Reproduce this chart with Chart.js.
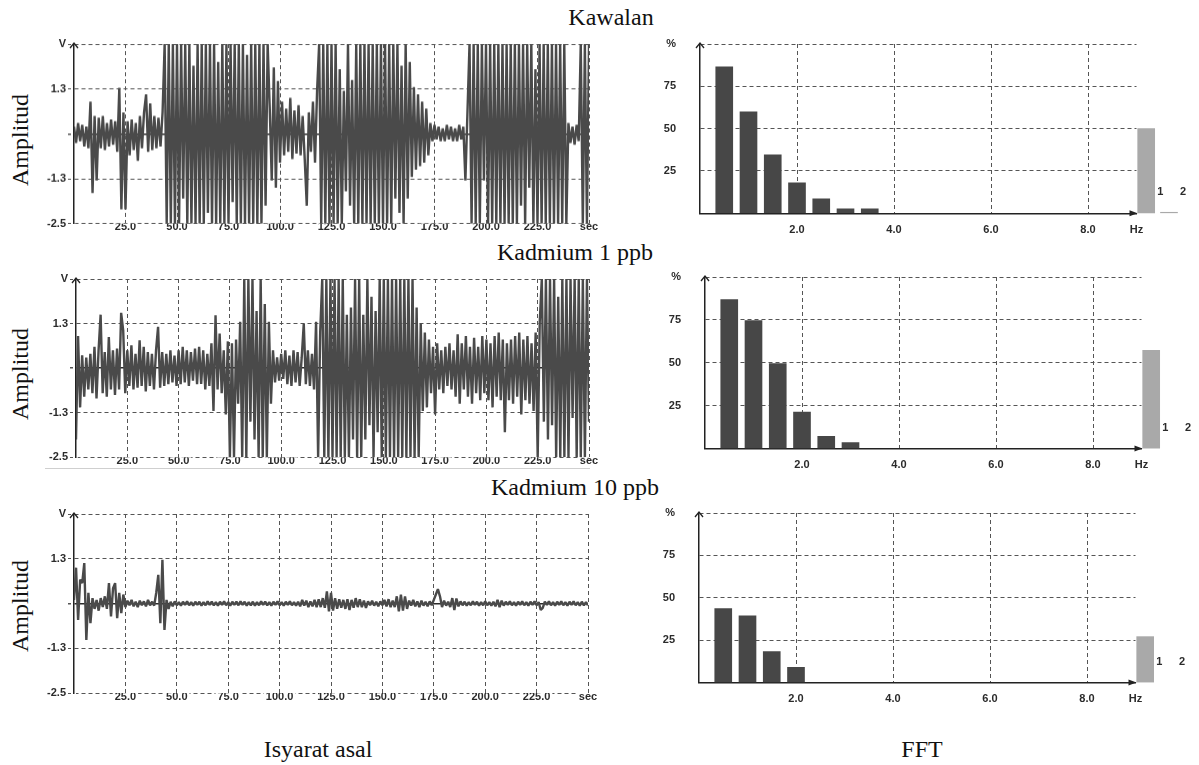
<!DOCTYPE html>
<html lang="ms">
<head>
<meta charset="UTF-8" />
<title>Isyarat asal dan FFT</title>
<script src="https://cdn.jsdelivr.net/npm/chart.js"></script>
<style>
  html, body { margin: 0; padding: 0; background: #fff; width: 1199px; height: 765px; overflow: hidden; }
  .box { position: absolute; }
  .lbl {
    position: absolute; white-space: nowrap; line-height: 1; color: #111;
    font-family: 'Liberation Serif', 'Times New Roman', serif; font-size: 24px;
    transform: translate(-50%, -50%);
  }
  .rot { transform: translate(-50%, -50%) rotate(-90deg); }
</style>
</head>
<body>
<div class="lbl" style="left:611px; top:17px;">Kawalan</div>
<div class="lbl" style="left:575px; top:252px;">Kadmium 1 ppb</div>
<div class="lbl" style="left:575px; top:487px;">Kadmium 10 ppb</div>
<div class="lbl rot" style="left:20px; top:140px;">Amplitud</div>
<div class="lbl rot" style="left:20px; top:374px;">Amplitud</div>
<div class="lbl rot" style="left:20px; top:606px;">Amplitud</div>
<div class="lbl" style="left:318px; top:749px;">Isyarat asal</div>
<div class="lbl" style="left:922px; top:749px;">FFT</div>
<div style="position:absolute; left:45px; top:468px; width:545px; height:1px; background:#cfcfcf;"></div>

<div class="box" id="sig1"><canvas></canvas></div>
<div class="box" id="sig2"><canvas></canvas></div>
<div class="box" id="sig3"><canvas></canvas></div>
<div class="box" id="fft1"><canvas></canvas></div>
<div class="box" id="fft2"><canvas></canvas></div>
<div class="box" id="fft3"><canvas></canvas></div>

<script>
  // ---- data: original signals (V), one sample per second, 0..250 s ----
  const sampleSec = 1;

  const signalKawalan = [
    0.2, -0.25, 0.3, -0.2, 0.25, -0.35, 0.2, -0.4, 0.9, -1.65,
    0.5, -1.3, 0.45, -0.4, 0.5, -0.45, 0.3, -0.35, 0.4, -0.3,
    0.35, -0.5, 1.28, -2.1, 0.6, -2.1, 0.35, -0.6, 0.4, -0.45,
    0.3, -0.75, 0.5, -0.4, 0.6, 1.1, -0.5, 0.85, -0.45, 0.5,
    -0.4, 0.45, -0.35, 0.6, 2.5, -2.5, 2.5, -2.5, 2.5, -2.5,
    2.5, -2.5, 2.5, -1.8, 2.5, -2.5, 2.5, -2.5, 1.9, -2.5,
    2.5, -2.5, 2.5, -2.5, 2.5, -2.2, 2.5, -2.5, 2.5, -2.5,
    2.0, -2.5, 2.5, -2.5, 2.5, -2.5, 2.5, -1.9, 2.5, -2.5,
    2.5, -2.5, 2.5, -2.5, 2.2, -2.5, 2.5, -2.5, 2.5, -2.5,
    2.5, -2.5, 2.5, -2.0, 2.5, 0.75, -1.3, 1.85, -1.5, 1.47,
    -0.8, 0.9, -0.6, 0.7, -0.5, 1.0, -0.7, 0.65, -0.55, 0.8,
    -0.6, 0.5, -0.7, -2.0, 0.6, -0.5, 0.9, -0.8, 1.2, 2.5,
    -2.5, 2.5, -2.5, 2.5, -2.5, 2.5, -2.5, 2.5, -2.5, 1.8,
    -2.5, 1.2, -1.6, 2.5, -2.0, 1.5, -2.5, 2.5, -2.5, 2.5,
    -2.5, 2.5, -2.5, 2.5, -2.5, 2.5, -2.5, 2.5, -2.5, 2.5,
    -2.5, 2.5, -2.5, 2.5, -2.5, 2.5, -1.8, 2.5, -2.2, 1.9,
    -2.5, 2.5, -1.8, 2.0, -1.2, 1.3, -1.0, 1.1, -0.9, 0.9,
    -0.8, 0.7, -0.6, 0.3, -0.2, 0.25, -0.15, 0.2, -0.2, 0.15,
    -0.2, 0.25, -0.15, 0.2, -0.2, 0.15, -0.2, 0.25, -0.15, 0.2,
    -1.3, 0.6, 2.5, -2.5, 2.5, -2.5, 2.5, -2.5, 2.5, -1.3,
    2.5, -2.5, 2.5, -2.5, 2.5, -2.5, 2.5, -2.5, 2.5, -2.5,
    2.5, -2.5, 2.5, -2.5, 2.5, -2.5, 2.5, -2.0, 2.5, -2.5,
    2.5, -1.5, 2.5, -2.5, 1.8, -2.5, 2.5, -2.5, 2.5, -2.5,
    2.5, -2.5, 2.5, -2.5, 2.5, -2.5, 2.5, -2.5, 2.5, -2.5,
    0.3, -0.25, 0.2, -0.3, 0.25, -0.2, 2.5, -2.5, 2.5, -2.5,
    2.5
  ];

  const signalKd1 = [
    -2.0, 0.9, -1.1, 0.36, -0.8, 0.3, -0.6, 0.4, -0.7, 0.6,
    -0.85, 0.5, 1.5, -0.7, 0.45, -0.8, 0.87, -0.6, 0.5, -0.75,
    0.55, -0.6, 1.55, 1.06, -0.7, 0.5, -0.5, 0.64, -0.6, 0.4,
    -0.55, 0.78, -0.5, 0.6, -0.65, 0.45, -0.5, 0.4, -0.6, 0.5,
    1.16, -0.55, 0.45, -0.5, 0.4, -0.45, 0.5, -0.4, 0.35, -0.5,
    0.5, -0.45, 0.6, -0.4, 0.5, -0.5, 0.45, -0.35, 0.55, -0.45,
    0.6, -0.44, 0.5, -0.6, 0.4, -0.5, 0.7, -1.2, 1.48, -0.6,
    0.97, -0.7, 0.5, -1.3, 0.75, -2.5, 0.7, -2.5, 0.8, -1.0,
    1.3, -2.5, 2.5, -2.5, 2.5, -1.5, 2.5, -2.0, 1.6, -2.5,
    2.5, -2.5, 1.8, -2.5, 1.3, -1.0, 0.5, -0.4, 0.3, -0.35,
    0.4, -0.3, 0.5, -0.45, 0.35, -0.5, 0.5, -0.4, 0.45, -0.5,
    0.3, 1.25, -0.45, 0.5, -0.5, 0.4, -0.6, 1.3, -2.5, 1.0,
    2.5, -2.5, 2.5, -2.5, 2.5, -2.5, 2.5, -2.5, 2.5, -2.5,
    2.5, -2.5, 1.5, -2.5, 1.7, -2.0, 2.5, -2.5, 2.5, -2.5,
    1.5, -2.0, 2.5, -1.6, 2.0, -2.5, 1.6, -1.8, 2.5, -2.5,
    2.5, -2.5, 2.5, -2.5, 2.5, -2.5, 2.5, -2.5, 2.5, -2.5,
    2.5, -2.5, 2.5, -2.5, 2.5, -2.5, 1.7, -2.5, 1.25, -1.2,
    1.0, -1.1, 0.8, -0.7, 0.6, -1.3, 0.7, -0.6, 0.5, -0.7,
    0.6, -0.5, 0.7, -0.6, 0.5, -0.8, 0.95, -1.0, 0.7, -0.6,
    0.9, -0.8, 0.6, -1.0, 0.85, -0.7, 0.6, -0.9, 0.9, -0.7,
    0.8, -0.9, 0.7, -1.1, 0.9, -0.8, 1.0, -0.9, 0.8, -1.8,
    0.7, -0.9, 0.8, -1.0, 0.9, -0.8, 1.0, -1.3, 0.8, -0.9,
    0.9, -1.0, 0.7, -1.2, 1.0, -2.5, 1.3, 2.5, -1.5, 2.5,
    -2.0, 2.5, -1.6, 2.5, -2.5, 2.0, -2.5, 2.5, -2.5, 2.5,
    -2.5, 2.5, -1.4, 2.5, -2.5, 2.5, -2.5, 2.5, -2.5, 2.5,
    -1.5
  ];

  const signalKd10 = [
    0.1, 1.0, -0.46, 0.67, 0.57, 1.13, -1.02, 0.3, -0.55, 0.15,
    -0.15, 0.1, -0.2, 0.15, -0.1, 0.2, -0.15, 0.57, -0.36, 0.43,
    0.57, -0.41, 0.3, -0.27, 0.25, -0.1, 0.08, -0.05, 0.1, -0.08,
    0.05, -0.1, 0.08, -0.05, 0.06, -0.08, 0.1, -0.05, 0.05, -0.06,
    0.3, 0.8, -0.55, 1.22, -0.74, 0.1, -0.15, 0.05, -0.08, 0.06,
    -0.05, 0.04, -0.06, 0.05, -0.04, 0.06, -0.05, 0.04, -0.06, 0.05,
    -0.04, 0.05, -0.06, 0.04, -0.05, 0.06, -0.04, 0.05, -0.05, 0.04,
    -0.06, 0.05, -0.04, 0.06, -0.05, 0.04, -0.06, 0.05, -0.04, 0.05,
    -0.05, 0.06, -0.04, 0.05, -0.06, 0.04, -0.05, 0.05, -0.06, 0.04,
    -0.05, 0.06, -0.04, 0.05, -0.05, 0.04, -0.06, 0.05, -0.04, 0.06,
    -0.05, 0.04, -0.06, 0.05, -0.04, 0.06, -0.05, 0.04, -0.06, 0.05,
    -0.08, 0.1, -0.06, 0.08, -0.1, 0.06, -0.08, 0.1, -0.1, 0.12,
    -0.1, 0.15, -0.12, 0.34, -0.22, 0.3, -0.2, 0.15, -0.15, 0.12,
    -0.12, 0.1, -0.15, 0.12, -0.18, 0.1, -0.12, 0.15, -0.1, 0.12,
    -0.1, 0.08, -0.12, 0.06, -0.05, 0.08, -0.06, 0.05, -0.08, 0.06,
    -0.05, 0.1, -0.08, 0.12, -0.1, 0.08, -0.1, 0.2, -0.22, 0.25,
    -0.2, 0.2, -0.15, 0.08, -0.06, 0.1, -0.08, 0.06, -0.1, 0.08,
    -0.06, 0.05, -0.08, 0.06, -0.05, 0.1, 0.25, 0.4, 0.2, -0.1,
    0.08, -0.06, 0.05, -0.1, 0.15, -0.18, 0.14, -0.08, 0.06, -0.05,
    0.05, -0.06, 0.04, -0.05, 0.06, -0.04, 0.05, -0.06, 0.04, -0.05,
    0.06, -0.05, 0.04, -0.06, 0.05, -0.08, 0.1, -0.1, 0.08, -0.06,
    0.05, -0.04, 0.06, -0.05, 0.04, -0.06, 0.05, -0.04, 0.06, -0.05,
    0.04, -0.06, 0.05, -0.04, 0.06, -0.05, 0.04, -0.18, -0.12, 0.05,
    -0.04, 0.06, -0.05, 0.04, -0.06, 0.05, -0.04, 0.06, -0.05, 0.04,
    -0.06, 0.05, -0.04, 0.06, -0.05, 0.04, -0.06, 0.05, -0.05, 0.04,
    -0.05
  ];

  // ---- data: FFT (%), bars at these frequencies ----
  const freqHz = [0.5, 1.0, 1.5, 2.0, 2.5, 3.0, 3.5];
  const fftKawalan = [86.5, 60, 34.5, 18, 8.5, 2.7, 2.7];
  const fftKd1 = [86.8, 74.6, 49.5, 21.3, 7.2, 3.5];
  const fftKd10 = [43.6, 39.3, 18.3, 9];

  // side bars "1" and "2" drawn just past the end of the Hz axis
  const sideHz = [9.2, 9.67];
  const sideLabels = ['1', '2'];
  const sideKawalan = [50, 0.6];
  const sideKd1 = [57.3, null];
  const sideKd10 = [27.1, null];

  // ---- axis ticks ----
  const secTicks = [0, 25, 50, 75, 100, 125, 150, 175, 200, 225, 250];
  const secLabels = ['', '25.0', '50.0', '75.0', '100.0', '125.0', '150.0', '175.0', '200.0', '225.0', 'sec'];
  const voltTicks = [-2.5, -1.25, 0, 1.25, 2.5];
  const voltLabels = ['-2.5', '-1.3', '', '1.3', 'V'];
  const hzTicks = [0, 2, 4, 6, 8, 9];
  const hzLabels = ['', '2.0', '4.0', '6.0', '8.0', 'Hz'];
  const pctTicks = [0, 25, 50, 75, 100];
  const pctLabels = ['', '25', '50', '75', '%'];

  Chart.defaults.animation = false;
  Chart.defaults.font.family = "'Liberation Sans', Arial, sans-serif";

  const tickFont = { size: 11, weight: 'bold' };
  const tickColor = '#2b2b2b';
  const gridColor = '#555';
  const dashPattern = [4, 3];

  // small arrow heads at the ends of the axes
  const axisArrows = {
    id: 'axisArrows',
    afterDraw(chart, args, opts) {
      const ctx = chart.ctx;
      const a = chart.chartArea;
      ctx.save();
      ctx.strokeStyle = '#222';
      ctx.fillStyle = '#222';
      ctx.lineWidth = 1.3;
      ctx.beginPath();
      ctx.moveTo(a.left - 4, a.top + 4);
      ctx.lineTo(a.left, a.top - 1);
      ctx.lineTo(a.left + 4, a.top + 4);
      ctx.stroke();
      if (opts.right) {
        ctx.beginPath();
        ctx.moveTo(a.right - 7, a.bottom - 3);
        ctx.lineTo(a.right + 1, a.bottom);
        ctx.lineTo(a.right - 7, a.bottom + 3);
        ctx.closePath();
        ctx.fill();
      }
      ctx.restore();
    }
  };

  // "1" / "2" beside the side bars
  const sideLabelPlugin = {
    id: 'sideLabels',
    afterDatasetsDraw(chart) {
      const ctx = chart.ctx;
      const x = chart.scales.x;
      const yBase = chart.scales.y.getPixelForValue(0);
      ctx.save();
      ctx.font = "bold 11px 'Liberation Sans', Arial, sans-serif";
      ctx.fillStyle = tickColor;
      ctx.textAlign = 'center';
      ctx.textBaseline = 'middle';
      sideLabels.forEach((t, i) => ctx.fillText(t, x.getPixelForValue(sideHz[i]) + 14, yBase - 21));
      ctx.restore();
    }
  };

  function makeSignalChart(id, values, area) {
    const box = document.getElementById(id);
    const padTop = 10, padRight = 14, xAxisH = 16;
    box.style.left = '0px';
    box.style.top = (area.top - padTop) + 'px';
    box.style.width = (area.right + padRight) + 'px';
    box.style.height = (area.bottom - area.top + padTop + xAxisH) + 'px';

    new Chart(box.querySelector('canvas'), {
      type: 'line',
      data: {
        datasets: [{
          data: values.map((v, i) => ({ x: i * sampleSec, y: v })),
          borderColor: '#4a4a4a',
          borderWidth: 2.4,
          borderJoinStyle: 'bevel',
          pointRadius: 0,
          tension: 0
        }]
      },
      plugins: [axisArrows],
      options: {
        responsive: true,
        maintainAspectRatio: false,
        parsing: false,
        normalized: true,
        layout: { padding: { top: padTop, right: padRight, left: 0, bottom: 0 } },
        plugins: { legend: { display: false }, tooltip: { enabled: false }, axisArrows: { right: false } },
        scales: {
          x: {
            type: 'linear', min: 0, max: 250, offset: false,
            afterBuildTicks: s => { s.ticks = secTicks.map(v => ({ value: v })); },
            afterFit: s => { s.height = xAxisH; },
            ticks: {
              callback: (v, i) => secLabels[i],
              font: tickFont, color: tickColor, padding: -3,
              maxRotation: 0, autoSkip: false,
              showLabelBackdrop: true, backdropColor: '#fff', backdropPadding: { x: 2, y: 0 }
            },
            grid: {
              color: c => (c.tick && c.tick.value === 0) ? 'rgba(0,0,0,0)' : gridColor,
              drawTicks: false, lineWidth: 1
            },
            border: { display: false, dash: dashPattern }
          },
          y: {
            type: 'linear', min: -2.5, max: 2.5,
            afterBuildTicks: s => { s.ticks = voltTicks.map(v => ({ value: v })); },
            afterFit: s => { s.width = area.left; },
            ticks: { callback: (v, i) => voltLabels[i], font: tickFont, color: tickColor, padding: 2 },
            grid: {
              color: c => (c.tick && c.tick.value === 0) ? '#2a2a2a' : gridColor,
              lineWidth: c => (c.tick && c.tick.value === 0) ? 1.5 : 1,
              drawTicks: true, tickLength: 6, tickColor: gridColor, tickBorderDash: [3, 2]
            },
            border: {
              display: true, color: '#222', width: 1.5,
              dash: c => (c.tick && c.tick.value === 0) ? [] : dashPattern
            }
          }
        }
      }
    });
  }

  function makeFftChart(id, values, sideValues, area) {
    const box = document.getElementById(id);
    // the y tick padding also pads the axis ends, so leave room for it
    const boxLeft = 640, boxWidth = 559, padTop = 32, xAxisH = 32;
    const padRight = boxWidth - (area.right - boxLeft);
    box.style.left = boxLeft + 'px';
    box.style.top = (area.top - padTop) + 'px';
    box.style.width = boxWidth + 'px';
    box.style.height = (area.bottom - area.top + padTop + xAxisH) + 'px';

    new Chart(box.querySelector('canvas'), {
      type: 'bar',
      data: {
        datasets: [
          {
            data: values.map((v, i) => ({ x: freqHz[i], y: v })),
            backgroundColor: '#474747',
            barThickness: 17,
            grouped: false
          },
          {
            data: sideValues.map((v, i) => ({ x: sideHz[i], y: v })),
            backgroundColor: '#a9a9a9',
            barThickness: 17,
            grouped: false,
            clip: false
          }
        ]
      },
      plugins: [axisArrows, sideLabelPlugin],
      options: {
        responsive: true,
        maintainAspectRatio: false,
        layout: { padding: { top: padTop, right: padRight, left: 0, bottom: 0 } },
        plugins: { legend: { display: false }, tooltip: { enabled: false }, axisArrows: { right: true } },
        scales: {
          x: {
            type: 'linear', min: 0, max: 9, offset: false,
            afterBuildTicks: s => { s.ticks = hzTicks.map(v => ({ value: v })); },
            afterFit: s => { s.height = xAxisH; },
            ticks: { callback: (v, i) => hzLabels[i], font: tickFont, color: tickColor, padding: 10, maxRotation: 0, autoSkip: false },
            grid: {
              color: c => (c.tick && (c.tick.value === 0 || c.tick.value === 9)) ? 'rgba(0,0,0,0)' : gridColor,
              drawTicks: false, lineWidth: 1, offset: false
            },
            border: { display: true, color: '#222', width: 1.5, dash: dashPattern }
          },
          y: {
            type: 'linear', min: 0, max: 100,
            afterBuildTicks: s => { s.ticks = pctTicks.map(v => ({ value: v })); },
            afterFit: s => { s.width = area.left - boxLeft; },
            ticks: { callback: (v, i) => pctLabels[i], font: tickFont, color: tickColor, padding: 24 },
            grid: {
              color: c => (c.tick && c.tick.value === 0) ? 'rgba(0,0,0,0)' : gridColor,
              drawTicks: false, lineWidth: 1
            },
            border: { display: true, color: '#222', width: 1.5, dash: dashPattern }
          }
        }
      }
    });
  }

  makeSignalChart('sig1', signalKawalan, { left: 74, top: 44, right: 589, bottom: 222.7 });
  makeSignalChart('sig2', signalKd1, { left: 76, top: 278.7, right: 589, bottom: 457 });
  makeSignalChart('sig3', signalKd10, { left: 74, top: 514.3, right: 588, bottom: 693.3 });

  makeFftChart('fft1', fftKawalan, sideKawalan, { left: 700, top: 44, right: 1136.5, bottom: 213.3 });
  makeFftChart('fft2', fftKd1, sideKd1, { left: 705, top: 276.7, right: 1141.5, bottom: 448.3 });
  makeFftChart('fft3', fftKd10, sideKd10, { left: 699, top: 512.7, right: 1135.5, bottom: 682.3 });
</script>
</body>
</html>
